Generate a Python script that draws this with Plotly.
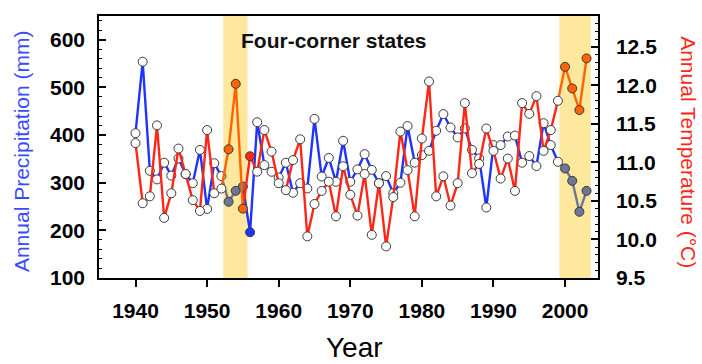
import plotly.graph_objects as go

# ---------------- data ----------------
years = list(range(1940, 2004))

precip_mm = [404, 554, 325, 307, 342, 315, 351, 318, 299, 369,
             245, 341, 314, 260, 283, 292, 196, 427, 337, 323,
             311, 342, 279, 299, 288, 434, 313, 352, 302, 388,
             302, 328, 360, 327, 299, 314, 278, 300, 419, 342,
             358, 367, 409, 444, 416, 395, 414, 369, 351, 248,
             379, 379, 397, 399, 342, 356, 335, 425, 379, 344,
             330, 304, 239, 283]

temp_c = [11.25, 10.47, 10.56, 11.48, 10.28, 10.60, 11.18, 10.85, 10.51, 10.37,
          11.42, 10.60, 10.66, 11.17, 12.02, 10.40, 11.08, 10.88, 11.42, 11.14,
          10.73, 10.64, 11.03, 11.30, 10.04, 10.46, 10.63, 10.75, 10.30, 10.95,
          10.58, 10.31, 10.85, 10.06, 10.73, 9.91, 10.55, 11.40, 10.90, 10.30,
          11.31, 12.05, 10.56, 10.82, 10.44, 10.73, 11.77, 10.86, 10.98, 11.44,
          11.15, 10.79, 11.05, 10.63, 11.77, 11.63, 11.86, 11.15, 11.42, 11.80,
          12.24, 11.96, 11.68, 12.35]

drought_spans = [(1952.25, 1955.65), (1999.2, 2003.6)]
drought_years = [1953, 1954, 1955, 2000, 2001, 2002, 2003]
post_drought_years = [1956]
drought_line_spans = [(1952, 1955), (1999, 2003)]

x_ticks = [1940, 1950, 1960, 1970, 1980, 1990, 2000]
p_ticks = [100, 200, 300, 400, 500, 600]
t_ticks = [9.5, 10.0, 10.5, 11.0, 11.5, 12.0, 12.5]

title_text = "Four-corner states"

# ---------------- styles ----------------
BLUE = "#1f35ff"
RED = "#ff2818"
GRAY = "#6e7692"
ORANGE = "#ff6400"
SHADE = "#fde89e"
FONT = "Liberation Sans, Arial, sans-serif"
LW = 2.4


def in_drought_line(y):
    return any(a <= y <= b for a, b in drought_line_spans)


def in_normal_line(y):
    return not any(a < y < b for a, b in drought_line_spans)


def masked(vals, keep):
    return [v if keep(y) else None for y, v in zip(years, vals)]


def fills(normal, drought):
    out = []
    for y in years:
        if y in drought_years:
            out.append(drought)
        elif y in post_drought_years:
            out.append(normal)
        else:
            out.append("white")
    return out


fig = go.Figure()

fig.add_trace(go.Scatter(x=years, y=masked(precip_mm, in_normal_line), mode="lines",
                         line=dict(color=BLUE, width=LW), connectgaps=False, hoverinfo="skip"))
fig.add_trace(go.Scatter(x=years, y=masked(precip_mm, in_drought_line), mode="lines",
                         line=dict(color=GRAY, width=LW), connectgaps=False, hoverinfo="skip"))
fig.add_trace(go.Scatter(x=years, y=masked(temp_c, in_normal_line), mode="lines", yaxis="y2",
                         line=dict(color=RED, width=LW), connectgaps=False, hoverinfo="skip"))
fig.add_trace(go.Scatter(x=years, y=masked(temp_c, in_drought_line), mode="lines", yaxis="y2",
                         line=dict(color=ORANGE, width=LW), connectgaps=False, hoverinfo="skip"))
fig.add_trace(go.Scatter(x=years, y=precip_mm, mode="markers",
                         marker=dict(size=9, color=fills(BLUE, GRAY),
                                     line=dict(color="#3a3a3a", width=1))))
fig.add_trace(go.Scatter(x=years, y=temp_c, mode="markers", yaxis="y2",
                         marker=dict(size=9, color=fills(RED, ORANGE),
                                     line=dict(color="#3a3a3a", width=1))))

for a, b in drought_spans:
    fig.add_shape(type="rect", xref="x", yref="paper", x0=a, x1=b, y0=0, y1=1,
                  fillcolor=SHADE, line=dict(width=0), layer="below")

tickfont = dict(family=FONT, size=21, color="black", weight="bold")

fig.update_layout(
    template="none",
    width=702, height=364,
    margin=dict(l=99, r=104, t=16, b=86, pad=0, autoexpand=False),
    plot_bgcolor="white", paper_bgcolor="white",
    showlegend=False,
    xaxis=dict(range=[1934.9, 2004.6], tickvals=x_ticks, ticks="outside", ticklen=7,
               tickwidth=1.5, tickcolor="black", showline=True, linecolor="black",
               linewidth=1.5, mirror=True, showgrid=False, zeroline=False,
               tickfont=tickfont, ticklabelstandoff=6, automargin=False),
    yaxis=dict(range=[100, 650], tickvals=p_ticks, ticks="inside", ticklen=7,
               tickwidth=1.5, tickcolor="black", showline=True, linecolor="black",
               linewidth=1.5, showgrid=False, zeroline=False, tickfont=tickfont,
               ticklabelstandoff=8, automargin=False,
               minor=dict(tick0=100, dtick=20, ticks="inside", ticklen=3,
                          tickcolor="black", tickwidth=1, showgrid=False)),
    yaxis2=dict(range=[9.5, 12.9], tickvals=t_ticks, tickformat=".1f", overlaying="y",
                side="right", ticks="inside", ticklen=7, tickwidth=1.5, tickcolor="black",
                showline=True, linecolor="black", linewidth=1.5, showgrid=False,
                zeroline=False, tickfont=tickfont, ticklabelstandoff=12, automargin=False,
                minor=dict(tick0=9.5, dtick=0.1, ticks="inside", ticklen=3,
                           tickcolor="black", tickwidth=1, showgrid=False)),
)

fig.add_annotation(text=title_text, xref="paper", yref="paper", x=0.47, y=0.908,
                   xanchor="center", yanchor="middle", showarrow=False,
                   font=dict(family=FONT, size=21, color="#111", weight="bold"))
fig.add_annotation(text="Annual Precipitation (mm)", xref="paper", yref="paper",
                   x=-0.154, y=0.485, xanchor="center", yanchor="middle", textangle=-90,
                   showarrow=False, font=dict(family=FONT, size=21, color="#3a4cff"))
fig.add_annotation(text="Annual Temperature (°C)", xref="paper", yref="paper",
                   x=1.180, y=0.481, xanchor="center", yanchor="middle", textangle=90,
                   showarrow=False, font=dict(family=FONT, size=21, color=RED))
fig.add_annotation(text="Year", xref="paper", yref="paper", x=0.513, y=-0.267,
                   xanchor="center", yanchor="middle", showarrow=False,
                   font=dict(family=FONT, size=28, color="black"))

fig.write_html("out.html", config={"displayModeBar": False},
               post_script="document.body.style.margin='0px';document.body.style.overflow='hidden';")
